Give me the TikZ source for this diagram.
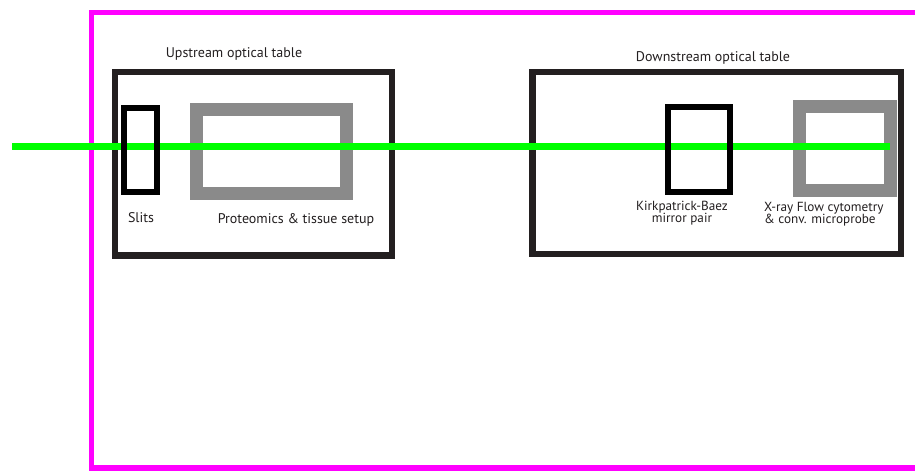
\documentclass[tikz,border=0pt]{standalone}
\usepackage{fontspec}
\setmainfont{PT Sans}
\definecolor{hutchpink}{RGB}{255,0,255}
\definecolor{beamgreen}{RGB}{0,255,0}
\definecolor{ink}{RGB}{35,31,32}
\definecolor{stagegray}{RGB}{138,138,138}
\begin{document}
\begin{tikzpicture}[x=1pt,y=-1pt,
  tablebox/.style={draw=ink, line width=6.5pt, rectangle, inner sep=0pt},
  optic/.style={draw=black, line width=6pt, rectangle, inner sep=0pt},
  stage/.style={draw=stagegray, line width=13pt, rectangle, inner sep=0pt},
  lbl/.style={text=ink, inner sep=0pt, anchor=base, font=\fontsize{14}{12}\selectfont},
  smalllbl/.style={lbl, font=\fontsize{13.2}{12}\selectfont},
  hutch/.style={draw=hutchpink, line width=5.5pt},
  beam/.style={draw=beamgreen, line width=7pt}]
\useasboundingbox (0,0) rectangle (915,471);
\fill[white] (0,0) rectangle (915,471);

% hutch wall, open towards the right
\draw[hutch] (920,12.5) -- (91.5,12.5) -- (91.5,468) -- (920,468);

% optical tables
\node[tablebox, minimum width=277pt, minimum height=183.5pt] (up) at (253.5,163.75) {};
\node[tablebox, minimum width=368.5pt, minimum height=182pt] (down) at (716.75,163) {};

% experimental stages
\node[stage, minimum width=149.5pt, minimum height=84.5pt] (prot) at (271.25,151.25) {};
\node[stage, minimum width=90.5pt, minimum height=84.5pt] (flow) at (844.75,148.25) {};

% x-ray beam
\coordinate (src) at (12,146.5);
\coordinate (stop) at ([xshift=-6.5pt]flow.east |- src);
\draw[beam] (src) -- (stop);

% optics
\node[optic, minimum width=32.5pt, minimum height=84pt] (slits) at (140.25,150) {};
\node[optic, minimum width=62.5pt, minimum height=85pt] (kb) at (698.75,149) {};

% labels
\node[lbl] (uplbl) at (234,57) {Upstream optical table};
\node[lbl] (downlbl) at (713,61) {Downstream optical table};
\node[lbl] (slitslbl) at (141,222) {Slits};
\node[lbl] (protlbl) at (296,223) {Proteomics \& tissue setup};
\node[smalllbl] (kblbla) at (682,210) {Kirkpatrick-Baez};
\node[smalllbl] (kblblb) at (682,222.5) {mirror pair};
\node[smalllbl, anchor=base west] (flowlbla) at (764,211) {X-ray Flow cytometry};
\node[smalllbl, anchor=base west] (flowlblb) at (764,223.5) {\& conv. microprobe};
\end{tikzpicture}
\end{document}
